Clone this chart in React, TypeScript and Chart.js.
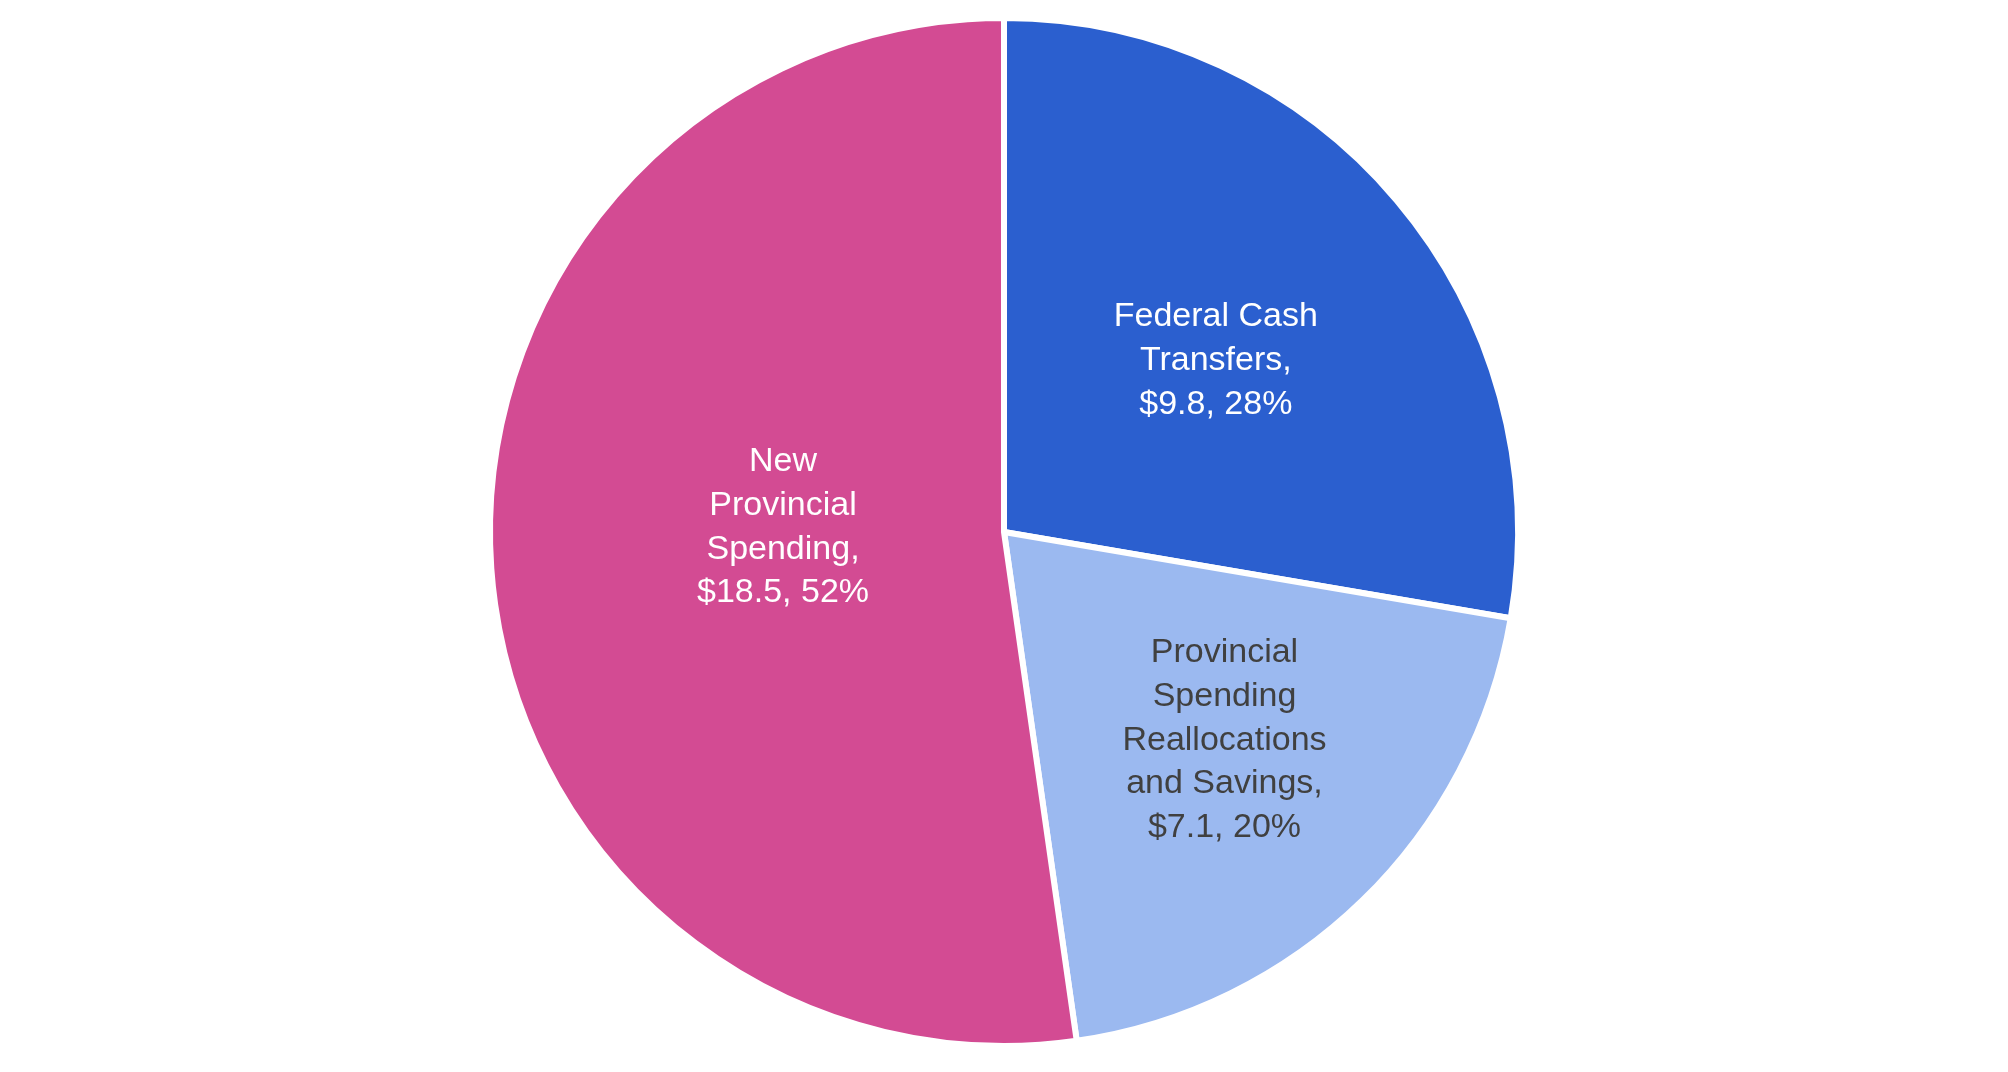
import React, { useEffect, useRef } from "react";
import { Chart, registerables } from "chart.js";

Chart.register(...registerables);

const categories = [
  "Federal Cash Transfers",
  "Provincial Spending Reallocations and Savings",
  "New Provincial Spending",
];
const categoryLines = [
  ["Federal Cash", "Transfers,"],
  ["Provincial", "Spending", "Reallocations", "and Savings,"],
  ["New", "Provincial", "Spending,"],
];
const values = [9.8, 7.1, 18.5];
const colors = ["#2B5FCF", "#9BB9F0", "#D34B93"];
const labelColors = ["#FFFFFF", "#404040", "#FFFFFF"];
// label placement: fraction of radius, angle offset in degrees from slice mid-angle
const labelPlace = [
  { r: 0.53, dAng: 1.2 },
  { r: 0.59, dAng: -2.4 },
  { r: 0.43, dAng: 5.3 },
];

const labelPlugin = {
  id: "sliceLabels",
  afterDatasetsDraw(chart: any) {
    const ctx = chart.ctx;
    const meta = chart.getDatasetMeta(0);
    const total = values.reduce((a, b) => a + b, 0);
    ctx.save();
    ctx.font = "34px 'Liberation Sans', Arial, sans-serif";
    ctx.textAlign = "center";
    ctx.textBaseline = "middle";
    meta.data.forEach((arc: any, i: number) => {
      const { x, y, startAngle, endAngle, outerRadius } = arc.getProps(
        ["x", "y", "startAngle", "endAngle", "outerRadius"],
        true
      );
      const mid = (startAngle + endAngle) / 2 + (labelPlace[i].dAng * Math.PI) / 180;
      const d = outerRadius * labelPlace[i].r;
      const cx = x + Math.cos(mid) * d;
      const cy = y + Math.sin(mid) * d;
      const pct = Math.round((values[i] / total) * 100);
      const lines = [...categoryLines[i], `$${values[i].toFixed(1)}, ${pct}%`];
      const lh = 43.8;
      const top = cy - ((lines.length - 1) * lh) / 2;
      ctx.fillStyle = labelColors[i];
      lines.forEach((ln, k) => ctx.fillText(ln, cx, top + k * lh));
    });
    ctx.restore();
  },
};

export default function App() {
  const ref = useRef<HTMLCanvasElement>(null);
  useEffect(() => {
    document.body.style.margin = "0";
    const chart = new Chart(ref.current!, {
      type: "pie",
      data: {
        labels: categories,
        datasets: [
          {
            data: values,
            backgroundColor: colors,
            borderColor: "#FFFFFF",
            borderWidth: 6,
          },
        ],
      },
      options: {
        responsive: false,
        animation: false,
        layout: { padding: { top: 15, bottom: 23, left: 0, right: 0 } },
        plugins: {
          legend: { display: false },
          tooltip: { enabled: false },
        },
      },
      plugins: [labelPlugin],
    });
    return () => chart.destroy();
  }, []);
  return (
    <div style={{ position: "fixed", left: 0, top: 0, width: 2008, height: 1072, background: "#fff" }}>
      <canvas ref={ref} width={2008} height={1072} />
    </div>
  );
}
